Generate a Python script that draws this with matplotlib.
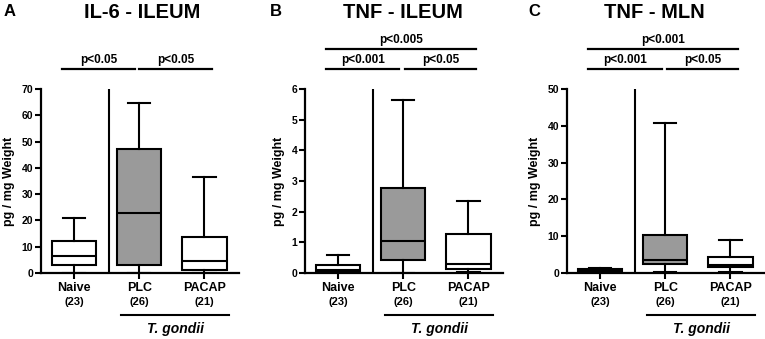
import matplotlib
matplotlib.use("Agg")
import matplotlib.pyplot as plt
import matplotlib.transforms as mtransforms

plt.rcParams['font.family'] = ['Liberation Sans', 'DejaVu Sans']
plt.rcParams['font.weight'] = 'bold'

groups = ["Naive", "PLC", "PACAP"]
counts = ["(23)", "(26)", "(21)"]
group_label = "T. gondii"

titles = ["IL-6 - ILEUM", "TNF - ILEUM", "TNF - MLN"]
letters = ["A", "B", "C"]
ylims = [70, 6, 50]
yticks = [[0, 10, 20, 30, 40, 50, 60, 70], [0, 1, 2, 3, 4, 5, 6], [0, 10, 20, 30, 40, 50]]

# box stats per panel: [Naive, PLC, PACAP]
il6_ileum_lo = [0.0, 0.0, 0.0]
il6_ileum_q1 = [3.0, 3.0, 1.2]
il6_ileum_med = [6.5, 22.7, 4.5]
il6_ileum_q3 = [12.0, 47.0, 13.7]
il6_ileum_hi = [21.0, 64.5, 36.5]

tnf_ileum_lo = [0.0, 0.0, 0.03]
tnf_ileum_q1 = [0.05, 0.42, 0.12]
tnf_ileum_med = [0.1, 1.03, 0.3]
tnf_ileum_q3 = [0.25, 2.78, 1.27]
tnf_ileum_hi = [0.6, 5.65, 2.36]

tnf_mln_lo = [0.0, 0.3, 0.4]
tnf_mln_q1 = [0.2, 2.4, 1.6]
tnf_mln_med = [0.6, 3.6, 2.3]
tnf_mln_q3 = [1.1, 10.2, 4.4]
tnf_mln_hi = [1.4, 40.7, 8.9]

# significance brackets: (label, x_start, x_end, level)
sig_a = [("p<0.05", 0.82, 1.94, 0), ("p<0.05", 2.0, 3.12, 0)]
sig_b = [("p<0.001", 0.82, 1.94, 0), ("p<0.05", 2.02, 3.12, 0), ("p<0.005", 0.82, 3.12, 1)]
sig_c = [("p<0.001", 0.82, 1.95, 0), ("p<0.05", 2.03, 3.11, 0), ("p<0.001", 0.82, 3.11, 1)]

panels = [
    (il6_ileum_lo, il6_ileum_q1, il6_ileum_med, il6_ileum_q3, il6_ileum_hi, sig_a),
    (tnf_ileum_lo, tnf_ileum_q1, tnf_ileum_med, tnf_ileum_q3, tnf_ileum_hi, sig_b),
    (tnf_mln_lo, tnf_mln_q1, tnf_mln_med, tnf_mln_q3, tnf_mln_hi, sig_c),
]

fills = ["white", "#9a9a9a", "white"]

W, H = 765, 339
fig = plt.figure(figsize=(W / 100, H / 100), dpi=100)

ax_lefts = [41, 305, 567]
ax_w = 198
ax_top, ax_bot = 89, 273
title_x = [142, 403, 654]
letter_x = [10, 276, 534]

def fy(py):
    return (H - py) / H

for i, (lo, q1, med, q3, hi, sigs) in enumerate(panels):
    ax = fig.add_axes([ax_lefts[i] / W, fy(ax_bot), ax_w / W, (ax_bot - ax_top) / H])
    stats = []
    for j in range(3):
        stats.append(dict(whislo=lo[j], q1=q1[j], med=med[j], q3=q3[j], whishi=hi[j], fliers=[]))
    bp = ax.bxp(stats, positions=[1, 2, 3], widths=0.68, patch_artist=True, showfliers=False,
                boxprops=dict(linewidth=1.5, edgecolor='black'),
                medianprops=dict(color='black', linewidth=1.5),
                whiskerprops=dict(color='black', linewidth=1.5),
                capprops=dict(color='black', linewidth=1.5))
    for patch, fc in zip(bp['boxes'], fills):
        patch.set_facecolor(fc)
    ax.set_xlim(0.49, 3.53)
    ax.set_ylim(0, ylims[i])
    ax.axvline(1.53, color='black', linewidth=1.5)
    for s in ['top', 'right']:
        ax.spines[s].set_visible(False)
    for s in ['left', 'bottom']:
        ax.spines[s].set_linewidth(1.6)
    ax.set_yticks(yticks[i])
    ax.set_xticks([1, 2, 3])
    ax.set_xticklabels([])
    ax.tick_params(axis='y', length=4, width=1.5, labelsize=7.5, pad=1.5)
    ax.tick_params(axis='x', length=4, width=1.5)
    for lab in ax.get_yticklabels():
        lab.set_fontweight('bold')
    ax.set_ylabel("pg / mg Weight", fontsize=9, fontweight='bold', labelpad=5)

    tr = mtransforms.blended_transform_factory(ax.transData, fig.transFigure)
    for j in range(3):
        ax.text(j + 1, fy(288), groups[j], transform=tr, ha='center', va='center', fontsize=9, fontweight='bold')
        ax.text(j + 1, fy(302), counts[j], transform=tr, ha='center', va='center', fontsize=8, fontweight='bold')
    ax.plot([1.72, 3.38], [fy(315), fy(315)], transform=tr, color='black', linewidth=1.5, clip_on=False)
    ax.text(2.55, fy(329), group_label, transform=tr, ha='center', va='center', fontsize=10,
            fontweight='bold', style='italic')

    for label, x0, x1, level in sigs:
        ly = 69 if level == 0 else 49
        ax.plot([x0, x1], [fy(ly), fy(ly)], transform=tr, color='black', linewidth=1.6, clip_on=False)
        ax.text((x0 + x1) / 2, fy(ly - 2.5), label, transform=tr, ha='center', va='bottom',
                fontsize=8.5, fontweight='bold')

    fig.text(title_x[i] / W, fy(12), titles[i], ha='center', va='center', fontsize=14.5, fontweight='bold')
    fig.text(letter_x[i] / W, fy(12), letters[i], ha='center', va='center', fontsize=12, fontweight='bold')

fig.savefig("out.png", dpi=100)
